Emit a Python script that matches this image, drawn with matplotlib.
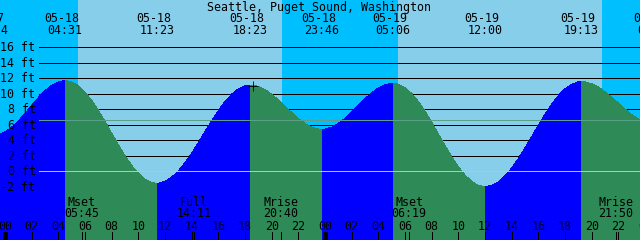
"""Grafico de mare estilo XTide: Seattle, Puget Sound."""

import numpy as np
import matplotlib
matplotlib.use("Agg")
import matplotlib.pyplot as plt

TITULO = "Seattle, Puget Sound, Washington"

# altura lida no grafico a cada meia hora, a partir de 05-18 00:00 - 0.5 h (pes)
ALTURA_INICIO_H = -0.5
ALTURA_PASSO_H = 0.5
alturas_pes = [
    4.75, 5.08, 5.68, 6.50, 7.46, 8.49, 9.50, 10.39, 11.09, 11.54, 11.70, 11.54,
    11.04, 10.23, 9.15, 7.86, 6.43, 4.92, 3.43, 2.01, 0.76, -0.27, -1.02, -1.45,
    -1.54, -1.31, -0.77, 0.05, 1.10, 2.34, 3.71, 5.12, 6.52, 7.84, 9.00, 9.95,
    10.64, 11.04, 11.12, 10.95, 10.54, 9.95, 9.22, 8.40, 7.57, 6.81, 6.17, 5.70,
    5.45, 5.45, 5.69, 6.17, 6.84, 7.64, 8.50, 9.36, 10.13, 10.75, 11.17, 11.34,
    11.24, 10.80, 10.04, 9.01, 7.75, 6.33, 4.83, 3.32, 1.88, 0.59, -0.49, -1.31,
    -1.82, -1.99, -1.83, -1.36, -0.60, 0.42, 1.64, 3.02, 4.47, 5.94, 7.36, 8.65,
    9.76, 10.64, 11.24, 11.54, 11.53, 11.30, 10.87, 10.27, 9.56, 8.79, 8.02, 7.32,
    6.74, 6.33,
]

# preamares / baixa-mares
mare_datas = ["05-17", "05-18", "05-18", "05-18", "05-18", "05-19", "05-19", "05-19", "05-20"]
mare_horas = ["22:54", "04:31", "11:23", "18:23", "23:46", "05:06", "12:00", "19:13", "00:43"]
mare_pes = [4.7, 11.7, -1.55, 11.13, 5.42, 11.35, -1.99, 11.57, 6.1]

# nascer / por do sol
sol_datas = ["05-18", "05-18", "05-19", "05-19"]
sol_horas = ["05:28", "20:47", "05:28", "20:47"]

# lua
lua_nomes = ["Mset", "Full", "Mrise", "Mset", "Mrise"]
lua_datas = ["05-18", "05-18", "05-18", "05-19", "05-19"]
lua_horas = ["05:45", "14:11", "20:40", "06:19", "21:50"]

niveis_pes = [16, 14, 12, 10, 8, 6, 4, 2, 0, -2]
nivel_medio_pes = 6.57
marca_data, marca_hora, marca_pes = "05-18", "18:37", 11.0

COR_DIA = "#87CEEB"
COR_NOITE = "#00BFFF"
COR_ENCHENTE = "#0000FF"
COR_VAZANTE = "#2E8B57"
COR_ZERO = "#8FD2EE"
COR_MEDIO = "#5C9F88"
FONTE = dict(family="DejaVu Sans Mono", fontsize=8.4, color="black")
LW = 0.5

# geometria em pixels (640x240)
PX_HORA = 40.0 / 3.0
X_MEIA_NOITE = 5.0
Y_ZERO = 171.3
PX_PE = 7.75


def _horas(data: str, hora: str) -> float:
    dia = int(data.split("-")[1])
    hh, mm = hora.split(":")
    return (dia - 18) * 24 + int(hh) + int(mm) / 60.0


def px(x: float) -> float:
    return (x - X_MEIA_NOITE) / PX_HORA


def py(y: float) -> float:
    return (Y_ZERO - y) / PX_PE


mare_t = np.array([_horas(d, h) for d, h in zip(mare_datas, mare_horas)])
sol_t = [_horas(d, h) for d, h in zip(sol_datas, sol_horas)]
lua_t = [_horas(d, h) for d, h in zip(lua_datas, lua_horas)]

grade_t = ALTURA_INICIO_H + ALTURA_PASSO_H * np.arange(len(alturas_pes))
t = np.concatenate([grade_t, mare_t])
h = np.concatenate([alturas_pes, mare_pes])
ordem = np.argsort(t, kind="stable")
t, h = t[ordem], h[ordem]

eh_alta = np.zeros(len(mare_pes), dtype=bool)
for i in range(len(mare_pes)):
    viz = mare_pes[i + 1] if i + 1 < len(mare_pes) else mare_pes[i - 1]
    eh_alta[i] = mare_pes[i] > viz
prox = np.clip(np.searchsorted(mare_t, t, side="left"), 0, len(mare_t) - 1)
ant = np.clip(np.searchsorted(mare_t, t, side="right") - 1, 0, len(mare_t) - 1)
vazante = (~eh_alta[prox]) | eh_alta[ant]
enchente = eh_alta[prox] | (~eh_alta[ant])

fig = plt.figure(figsize=(6.4, 2.4), dpi=100)
ax = fig.add_axes([0, 0, 1, 1])
ax.set_xlim(px(0), px(640))
ax.set_ylim(py(240), py(0))
ax.set_axis_off()

# fundo dia / noite
limites = [px(0)] + sol_t + [px(640)]
for i in range(len(limites) - 1):
    cor = COR_NOITE if i % 2 == 0 else COR_DIA
    ax.axvspan(limites[i], limites[i + 1], color=cor, lw=0, zorder=0)

# grade horizontal (fica atras da mare)
x_grade = px(39)
ax.hlines(niveis_pes, x_grade, px(640), color="black", lw=LW, zorder=1, antialiased=False)

base = py(240)
ax.fill_between(t, h, base, where=enchente, color=COR_ENCHENTE, lw=0, zorder=2, antialiased=False)
ax.fill_between(t, h, base, where=vazante, color=COR_VAZANTE, lw=0, zorder=2, antialiased=False)

ax.hlines(0, x_grade, px(640), color=COR_ZERO, lw=LW, zorder=3, antialiased=False)
ax.hlines(nivel_medio_pes, x_grade, px(640), color=COR_MEDIO, lw=LW, zorder=3, antialiased=False)

ax.plot([_horas(marca_data, marca_hora)], [marca_pes], marker="+", ms=7.5, mew=0.6,
        color="black", zorder=4)

# rotulos de altura
for n in niveis_pes:
    ax.text(px(35.5), n - 4.0 / PX_PE, f"{n} ft", ha="right", va="baseline", zorder=5, **FONTE)

# titulo e horarios das mares
ax.text(px(319.5), py(10.7), TITULO, ha="center", va="baseline", zorder=5, **FONTE)
for tt, d, hr in zip(mare_t, mare_datas, mare_horas):
    ax.text(tt - 3.5 / PX_HORA, py(21.7), d, ha="center", va="baseline", zorder=5, **FONTE)
    ax.text(tt, py(34.0), hr, ha="center", va="baseline", zorder=5, **FONTE)

# eventos da lua
for tt, nome, hr in zip(lua_t, lua_nomes, lua_horas):
    ax.text(tt, py(205.8), nome, ha="center", va="baseline", zorder=5, **FONTE)
    ax.text(tt, py(217.0), hr, ha="center", va="baseline", zorder=5, **FONTE)
ax.vlines(lua_t, py(240), py(232), color="black", lw=LW, zorder=5, antialiased=False)

# eixo de horas
horas_eixo = np.arange(0, 49, 2)
for hh in horas_eixo:
    ax.text(hh, py(230.0), f"{hh % 24:02d}", ha="center", va="baseline", zorder=5, **FONTE)
    lw = 2.2 if hh % 24 == 0 else LW
    ax.vlines(hh, py(240), py(232), color="black", lw=lw, zorder=5, antialiased=False)

fig.savefig("out.png", dpi=100)
plt.close(fig)
